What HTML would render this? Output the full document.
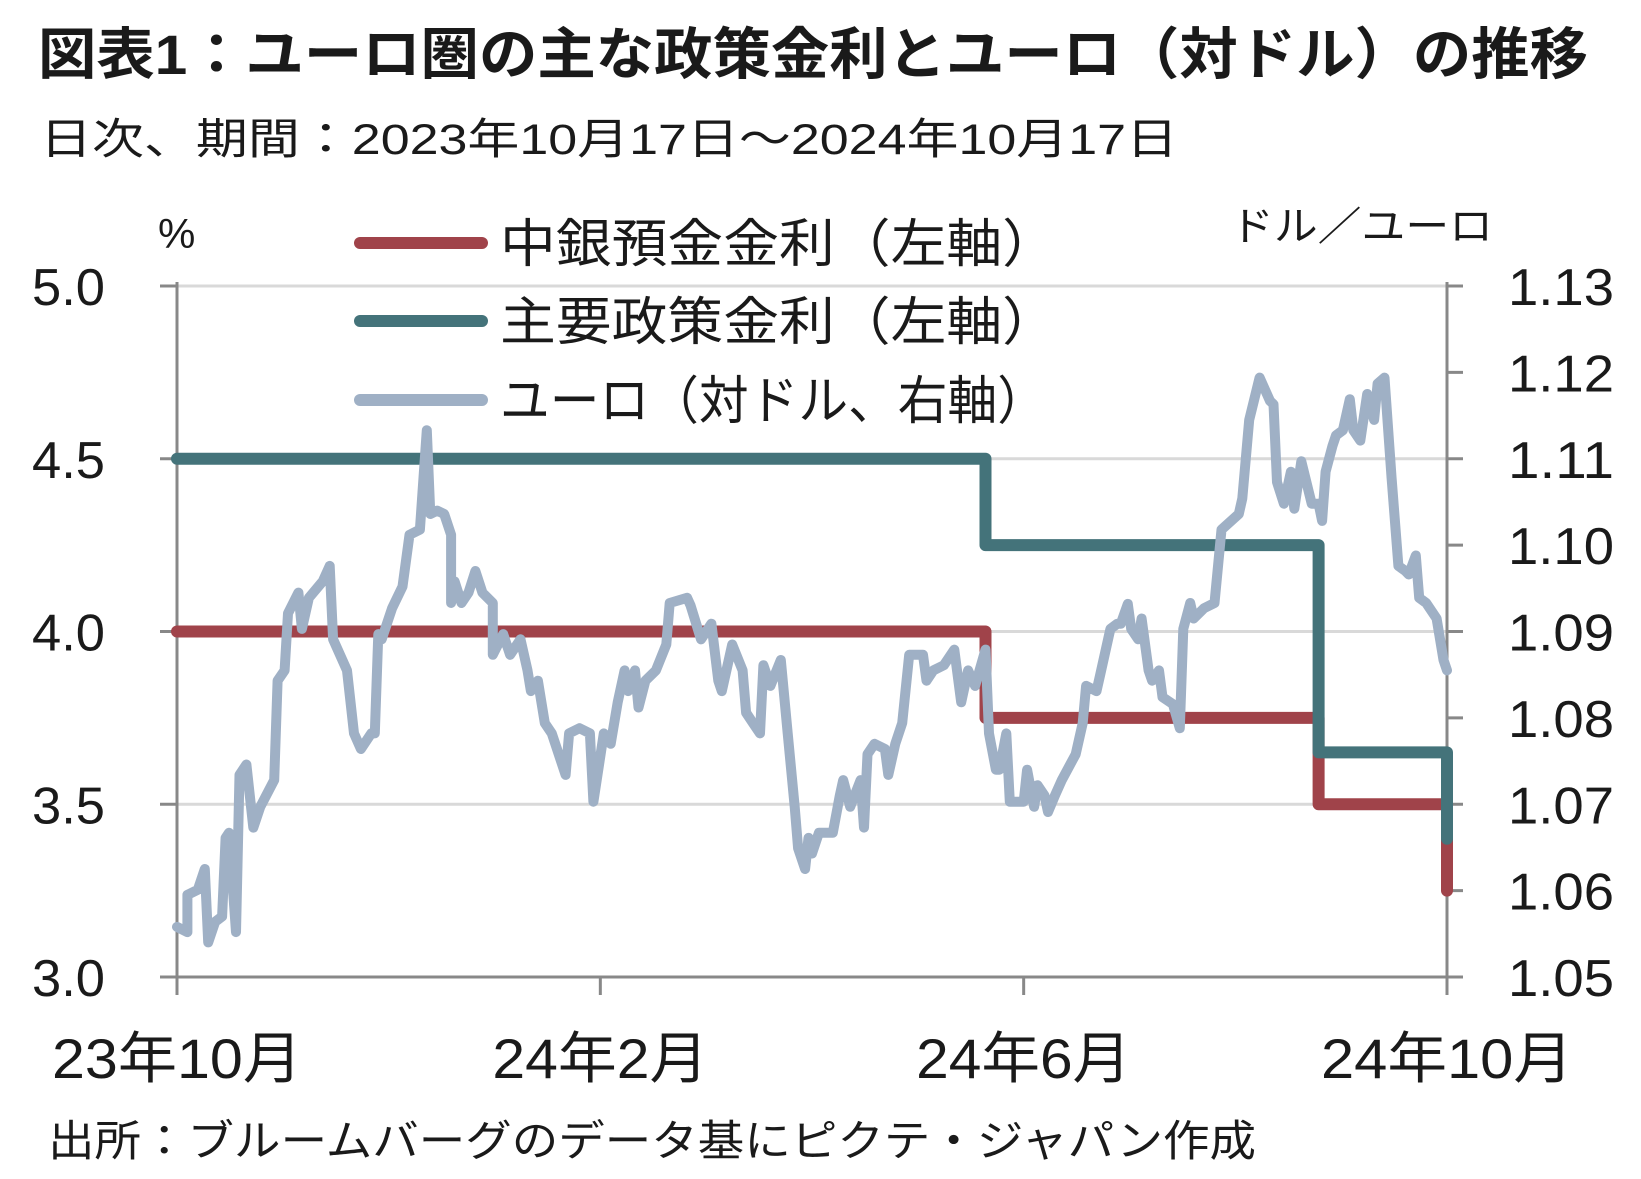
<!DOCTYPE html>
<html><head><meta charset="utf-8">
<style>
html,body{margin:0;padding:0;background:#fff;}
body{width:1641px;height:1174px;overflow:hidden;font-family:"Liberation Sans","Noto Sans CJK JP",sans-serif;}
svg text{font-family:"Liberation Sans","Noto Sans CJK JP",sans-serif;fill:#1a1a1a;}
</style></head>
<body>
<svg id="chart" width="1641" height="1174" viewBox="0 0 1641 1174" xmlns="http://www.w3.org/2000/svg">
<text x="38" y="74" font-size="56" font-weight="bold" fill="#333" textLength="1550" lengthAdjust="spacingAndGlyphs">図表1：ユーロ圏の主な政策金利とユーロ（対ドル）の推移</text>
<text x="40" y="154" font-size="43" textLength="1138" lengthAdjust="spacingAndGlyphs">日次、期間：2023年10月17日～2024年10月17日</text>
<text x="158" y="248" font-size="42">%</text>
<text x="1230" y="240" font-size="40" textLength="263" lengthAdjust="spacingAndGlyphs">ドル／ユーロ</text>
<g id="grid"></g>
<g id="axes"></g>
<g id="series"></g>
<g id="legend"></g>
<text x="48" y="1156" font-size="43" textLength="1208" lengthAdjust="spacingAndGlyphs">出所：ブルームバーグのデータ基にピクテ・ジャパン作成</text>
</svg>
<script>
const leftTicks=[3.0,3.5,4.0,4.5,5.0];
const leftTickLabels=["3.0","3.5","4.0","4.5","5.0"];
const rightTicks=[1.05,1.06,1.07,1.08,1.09,1.10,1.11,1.12,1.13];
const rightTickLabels=["1.05","1.06","1.07","1.08","1.09","1.10","1.11","1.12","1.13"];
const xTickDays=[0,122,244,366];
const xTickLabels=["23年10月","24年2月","24年6月","24年10月"];
const depositDays=[0,233,233,329,329,366,366];
const depositRates=[4.0,4.0,3.75,3.75,3.5,3.5,3.25];
const mainDays=[0,233,233,329,329,366,366];
const mainRates=[4.5,4.5,4.25,4.25,3.65,3.65,3.40];
const fxDay=[0,3,3,6,8,9,11,13,14,15,17,18,20,22,24,28,29,31,32,35,36,38,42,44,45,49,51,53,56,57,58,59,62,65,67,70,72,73,75,77,79,79,80,82,84,86,88,91,91,94,96,99,101,102,104,106,108,112,113,116,119,120,123,125,127,129,130,132,133,135,138,141,142,147,148,151,154,156,157,160,163,164,166,168,169,171,174,176,178,179,181,182,183,185,189,191,192,194,197,198,199,201,204,205,207,209,211,215,216,218,221,224,226,228,230,233,234,236,237,239,240,244,245,247,248,250,251,253,255,259,261,262,265,266,269,271,272,274,275,277,278,280,281,283,284,287,289,290,292,293,296,299,301,306,307,309,312,315,316,317,319,321,322,324,327,329,330,331,333,334,336,338,339,341,343,345,346,348,350,352,354,355,357,358,360,363,365,366];
const fxValue=[1.0558,1.0552,1.0595,1.0601,1.0625,1.0540,1.0564,1.0570,1.0661,1.0667,1.0552,1.0734,1.0746,1.0673,1.0697,1.0728,1.0843,1.0855,1.0921,1.0945,1.0903,1.0939,1.0958,1.0976,1.0891,1.0855,1.0782,1.0764,1.0782,1.0782,1.0897,1.0891,1.0927,1.0952,1.1012,1.1018,1.1133,1.1036,1.1040,1.1036,1.1012,1.0933,1.0958,1.0933,1.0945,1.0970,1.0945,1.0933,1.0873,1.0897,1.0873,1.0891,1.0855,1.0831,1.0843,1.0794,1.0782,1.0734,1.0782,1.0788,1.0782,1.0703,1.0782,1.0770,1.0818,1.0855,1.0831,1.0855,1.0812,1.0843,1.0855,1.0885,1.0933,1.0939,1.0930,1.0891,1.0909,1.0843,1.0831,1.0885,1.0855,1.0806,1.0794,1.0782,1.0861,1.0837,1.0867,1.0782,1.0697,1.0649,1.0625,1.0661,1.0643,1.0667,1.0667,1.0710,1.0728,1.0697,1.0728,1.0673,1.0758,1.0770,1.0764,1.0734,1.0770,1.0794,1.0873,1.0873,1.0843,1.0855,1.0861,1.0879,1.0818,1.0855,1.0837,1.0879,1.0782,1.0740,1.0740,1.0782,1.0703,1.0703,1.0740,1.0697,1.0722,1.0710,1.0691,1.0710,1.0728,1.0758,1.0794,1.0837,1.0831,1.0849,1.0903,1.0909,1.0909,1.0932,1.0903,1.0891,1.0915,1.0855,1.0843,1.0855,1.0824,1.0816,1.0788,1.0903,1.0933,1.0915,1.0927,1.0933,1.1018,1.1036,1.1054,1.1145,1.1194,1.1167,1.1163,1.1073,1.1048,1.1085,1.1042,1.1097,1.1048,1.1048,1.1028,1.1085,1.1115,1.1127,1.1133,1.1169,1.1133,1.1121,1.1175,1.1145,1.1187,1.1194,1.1079,1.0976,1.0970,1.0966,1.0988,1.0939,1.0933,1.0915,1.0867,1.0855];
const legendLabels=["中銀預金金利（左軸）","主要政策金利（左軸）","ユーロ（対ドル、右軸）"];

const NS="http://www.w3.org/2000/svg";
const X0=177,X1=1447,Y0=977,Y1=286;
function xs(d){return X0+(d/366)*(X1-X0);}
function yl(v){return Y0-(v-3.0)/(5.0-3.0)*(Y0-Y1);}
function yr(v){return Y0-(v-1.05)/(1.13-1.05)*(Y0-Y1);}
function mk(tag,attrs,parent){const e=document.createElementNS(NS,tag);for(const k in attrs)e.setAttribute(k,attrs[k]);parent.appendChild(e);return e;}
const grid=document.getElementById('grid'),axes=document.getElementById('axes'),series=document.getElementById('series'),legend=document.getElementById('legend');

leftTicks.forEach((v,i)=>{
  if(i>0){const g=mk('line',{x1:X0,x2:X1,y1:yl(v),y2:yl(v),stroke:'#d9d9d9','stroke-width':3},grid);
  
  }
  const t=mk('line',{x1:X0-17,x2:X0,y1:yl(v),y2:yl(v),stroke:'#888','stroke-width':3},axes);
  
  
  const l=mk('text',{x:32,y:yl(v)+19,'font-size':52,textLength:73,lengthAdjust:'spacingAndGlyphs'},axes);l.textContent=leftTickLabels[i];
  
  
});
rightTicks.forEach((v,i)=>{
  const t=mk('line',{x1:X1,x2:X1+16,y1:yr(v),y2:yr(v),stroke:'#888','stroke-width':3},axes);
  
  
  const l=mk('text',{x:1508,y:yr(v)+19,'font-size':52,textLength:106,lengthAdjust:'spacingAndGlyphs'},axes);l.textContent=rightTickLabels[i];
  
  
});
const xLabelWidths=[250,216,215,252];
xTickDays.forEach((d,i)=>{
  const t=mk('line',{x1:xs(d),x2:xs(d),y1:Y0,y2:Y0+18,stroke:'#888','stroke-width':3},axes);
  
  
  const l=mk('text',{x:xs(d),y:1078,'font-size':56,'text-anchor':'middle',textLength:xLabelWidths[i],lengthAdjust:'spacingAndGlyphs'},axes);l.textContent=xTickLabels[i];
  
  
});
const la=mk('line',{x1:X0,x2:X0,y1:Y1-4,y2:Y0+18,stroke:'#888','stroke-width':3},axes);


const ra=mk('line',{x1:X1,x2:X1,y1:Y1-4,y2:Y0+18,stroke:'#888','stroke-width':3},axes);


const ba=mk('line',{x1:X0-17,x2:X1+16,y1:Y0,y2:Y0,stroke:'#888','stroke-width':3},axes);



function pathFrom(days,vals,yf){return days.map((d,i)=>(i?'L':'M')+xs(d).toFixed(1)+' '+yf(vals[i]).toFixed(1)).join(' ');}
const dep=mk('path',{d:pathFrom(depositDays,depositRates,yl),fill:'none',stroke:'#a0434a','stroke-width':12,'stroke-linejoin':'round','stroke-linecap':'round'},series);


const mn=mk('path',{d:pathFrom(mainDays,mainRates,yl),fill:'none',stroke:'#44737a','stroke-width':12,'stroke-linejoin':'round','stroke-linecap':'round'},series);


const fx=mk('path',{d:pathFrom(fxDay,fxValue,yr),fill:'none',stroke:'#9fb0c5','stroke-width':10,'stroke-linejoin':'round','stroke-linecap':'round'},series);



const legColors=['#a0434a','#44737a','#9fb0c5'];
const legY=[243,321,400];
const legWidths=[558,558,547];
legendLabels.forEach((s,i)=>{
  const l=mk('line',{x1:360,x2:482,y1:legY[i],y2:legY[i],stroke:legColors[i],'stroke-width':12,'stroke-linecap':'round'},legend);
  
  
  const t=mk('text',{x:500,y:legY[i]+19,'font-size':52,textLength:legWidths[i],lengthAdjust:'spacingAndGlyphs'},legend);t.textContent=s;
  
  
});
</script>
</body></html>
